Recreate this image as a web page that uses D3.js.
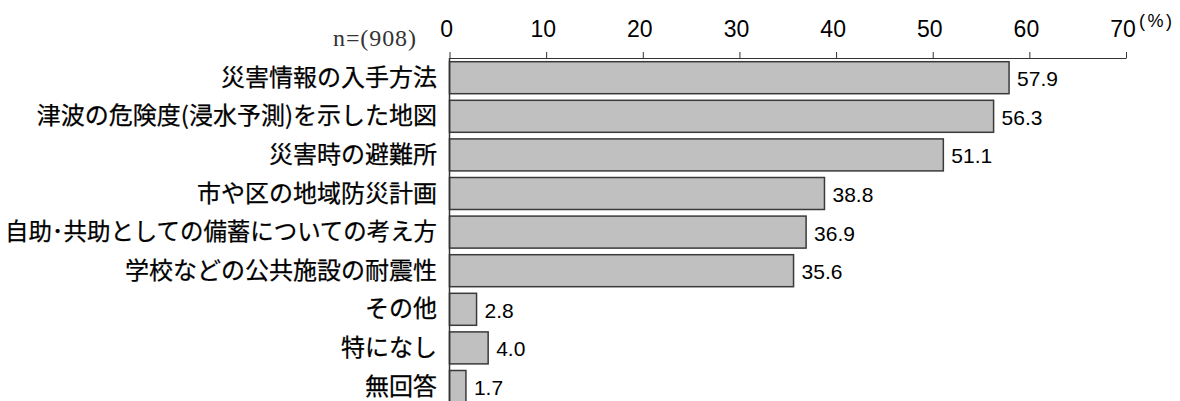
<!DOCTYPE html>
<html><head><meta charset="utf-8">
<script src="https://cdn.jsdelivr.net/npm/d3@7"></script>
<style>
html,body{margin:0;padding:0;background:#fff;}
svg{display:block;}
</style></head>
<body>
<svg id="chart" width="1180" height="401"></svg>
<script>
// Survey items and their shares (%)
const categories = [
  "災害情報の入手方法",
  "津波の危険度(浸水予測)を示した地図",
  "災害時の避難所",
  "市や区の地域防災計画",
  "自助･共助としての備蓄についての考え方",
  "学校などの公共施設の耐震性",
  "その他",
  "特になし",
  "無回答"
];
const values = [57.9, 56.3, 51.1, 38.8, 36.9, 35.6, 2.8, 4.0, 1.7];
const tickValues = [0, 10, 20, 30, 40, 50, 60, 70];
const sampleLabel = "n=(908)";
const unitLabel = "(%)";

const svg = d3.select("#chart");
const left = 449.5, right = 1126, axisY = 58;

const x = d3.scaleLinear().domain([0, 70]).range([left, right]);
const y = d3.scaleBand().domain(categories).range([58, 406.2]).paddingInner(0.171).paddingOuter(0.096);

const latin = "'Liberation Sans', Arial, sans-serif";
const cjk = "'Noto Sans CJK JP', sans-serif";

// top axis
const axis = d3.axisTop(x).tickValues(tickValues).tickSize(6).tickPadding(15).tickSizeOuter(0);
const g = svg.append("g").attr("transform", `translate(0,${axisY})`).call(axis);
g.select(".domain").attr("stroke", "#333").attr("stroke-width", 1);
g.selectAll(".tick line").attr("stroke", "#333").attr("stroke-width", 1);
g.selectAll(".tick text")
  .attr("font-family", latin).attr("font-size", 23).attr("fill", "#000")
  .attr("dx", "-0.15em");

// bars
svg.append("g").selectAll("rect").data(values).join("rect")
  .attr("x", x(0))
  .attr("y", (d, i) => y(categories[i]))
  .attr("width", d => x(d) - x(0))
  .attr("height", y.bandwidth())
  .attr("fill", "#c0c0c0")
  .attr("stroke", "#3a3a3a")
  .attr("stroke-width", 1.5);

// vertical baseline
svg.append("line").attr("x1", x(0)).attr("x2", x(0)).attr("y1", axisY).attr("y2", 401)
  .attr("stroke", "#333").attr("stroke-width", 1.5);

// category labels, squeezed when wider than the space left of the axis
const labelRight = 437, labelMaxWidth = 432;
svg.append("g").selectAll("text").data(categories).join("text")
  .attr("x", labelRight)
  .attr("y", d => y(d) + y.bandwidth() / 2)
  .attr("dy", "0.34em")
  .attr("text-anchor", "end")
  .attr("font-family", cjk)
  .attr("font-size", 24)
  .attr("fill", "#000")
  .attr("stroke", "#000")
  .attr("stroke-width", 0.25)
  .text(d => d)
  .each(function () {
    const w = this.getComputedTextLength();
    if (w > labelMaxWidth) {
      d3.select(this).attr("textLength", labelMaxWidth).attr("lengthAdjust", "spacingAndGlyphs");
    }
  });

// value labels
svg.append("g").selectAll("text").data(values).join("text")
  .attr("x", d => x(d) + 8)
  .attr("y", (d, i) => y(categories[i]) + y.bandwidth() / 2)
  .attr("dy", "0.4em")
  .attr("font-family", latin)
  .attr("font-size", 21)
  .attr("fill", "#000")
  .text(d => d.toFixed(1));

svg.append("text").attr("x", 333).attr("y", 46)
  .attr("font-family", "'Liberation Serif', 'DejaVu Serif', serif").attr("font-size", 24)
  .attr("textLength", 83).attr("lengthAdjust", "spacing")
  .attr("fill", "#333").text(sampleLabel);

svg.append("text").attr("x", 1139).attr("y", 27)
  .attr("font-family", latin).attr("font-size", 18)
  .attr("textLength", 33).attr("lengthAdjust", "spacing")
  .attr("fill", "#000").text(unitLabel);
</script>
</body></html>
